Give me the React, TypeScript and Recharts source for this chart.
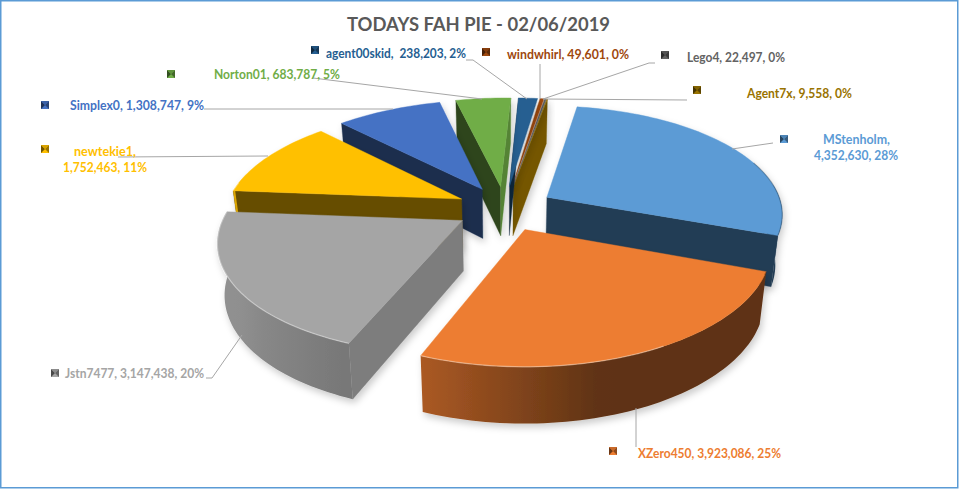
import React from "react";
import { PieChart, Pie } from "recharts";

const names = ["MStenholm", "XZero450", "Jstn7477", "newtekie1", "Simplex0", "Norton01", "agent00skid", "windwhirl", "Lego4", "Agent7x"];
const values = [4352630, 3923086, 3147438, 1752463, 1308747, 683787, 238203, 49601, 22497, 9558];
const colors = ["#5B9BD5", "#ED7D31", "#A5A5A5", "#FFC000", "#4472C4", "#70AD47", "#255E91", "#9E480E", "#636363", "#997300"];
const textLines = [
  ["MStenholm,", "4,352,630, 28%"],
  ["XZero450, 3,923,086, 25%"],
  ["Jstn7477, 3,147,438, 20%"],
  ["newtekie1,", "1,752,463, 11%"],
  ["Simplex0, 1,308,747, 9%"],
  ["Norton01, 683,787, 5%"],
  ["agent00skid,  238,203, 2%"],
  ["windwhirl, 49,601, 0%"],
  ["Lego4, 22,497, 0%"],
  ["Agent7x, 9,558, 0%"],
];
const titleText = "TODAYS FAH PIE - 02/06/2019";

// Painter's order: walking the pie counter-clockwise from the big slice lets nearer slices overlap farther ones.
const paintOrder = [0, 9, 8, 7, 6, 5, 4, 3, 2, 1];
const table = paintOrder.map((i) => ({ name: names[i], value: values[i], fill: colors[i], lines: textLines[i] }));

// Presentation only: label layout per category.
const layout: Record<string, { marker: number[]; text: number[][]; leader: number[][] }> = {
  MStenholm: { marker: [780, 135], text: [[823, 144, 67], [814, 160, 84]], leader: [[773, 143], [732, 149]] },
  XZero450: { marker: [609, 447], text: [[638, 458, 143]], leader: [[636, 447], [636, 408]] },
  Jstn7477: { marker: [51, 369], text: [[65, 378, 139]], leader: [[206, 378], [212, 378], [242, 335]] },
  newtekie1: { marker: [41, 145], text: [[74, 156, 62], [63, 172, 84]], leader: [[118, 157], [268, 156]] },
  Simplex0: { marker: [41, 101], text: [[70, 110, 134]], leader: [[204, 109], [393, 109]] },
  Norton01: { marker: [167, 70], text: [[214, 79, 126]], leader: [[313, 78], [482, 99]] },
  agent00skid: { marker: [311, 46], text: [[326, 58, 140]], leader: [[466, 60], [473, 60], [527, 99]] },
  windwhirl: { marker: [482, 48], text: [[507, 59, 122]], leader: [[540, 64], [540, 99]] },
  Lego4: { marker: [661, 51], text: [[687, 62, 98]], leader: [[655, 63], [649, 63], [543, 99]] },
  Agent7x: { marker: [693, 86], text: [[747, 98, 105]], leader: [[687, 100], [543, 99]] },
};

const FONT = "Lato, 'Open Sans', sans-serif";
const SQUASH = 108.7 / 236;
const PERSP = 0.155;
const EXPLODE = 0.207;
const SKEW = 4;
const DEPTH = 50;
const DEPTH_PERSP = 0.1;
const BOTTOM_SHRINK = 0.975;
const NO_END_WALL = new Set(["agent00skid", "windwhirl", "Lego4"]);

const rad = (d: number) => (d * Math.PI) / 180;
const norm = (t: number) => ((t % 360) + 360) % 360;
const shadeColor = (hex: string, f: number) => {
  const n = parseInt(hex.slice(1), 16);
  const c = [(n >> 16) & 255, (n >> 8) & 255, n & 255].map((v) => Math.round(v * f));
  return `rgb(${c[0]},${c[1]},${c[2]})`;
};
const arcShade = (raw: number) => {
  const t = norm(raw);
  if (t < 165) return 0.4;
  if (t < 201) return 0.4 + ((t - 165) / 36) * 0.32;
  if (t < 235) return 0.72 + ((t - 201) / 34) * 0.15;
  return 0.87;
};
const poly = (pts: number[][]) => "M" + pts.map((p) => `${p[0].toFixed(2)},${p[1].toFixed(2)}`).join("L") + "Z";

function Slice3D(props: any) {
  const { cx, cy, outerRadius: R, startAngle, endAngle, fill, name, index } = props;
  const t1 = 90 - endAngle;
  const t2 = 90 - startAngle;
  const tm = (t1 + t2) / 2;
  const ex = EXPLODE * Math.sin(rad(tm));
  const ey = -EXPLODE * Math.cos(rad(tm));

  const project = (lx: number, ly: number) => {
    const X = ex + lx;
    const Y = ey + ly;
    const w = 1 - PERSP * Y;
    return { p: [cx + (R * X) / w - SKEW * Y, cy + (R * SQUASH * Y) / w], y: ly, Y };
  };
  const top = (t: number) => project(Math.sin(rad(t)), -Math.cos(rad(t)));
  const bottom = (q: { p: number[]; Y: number }) => [
    cx + (q.p[0] - cx) * BOTTOM_SHRINK,
    q.p[1] + DEPTH / (1 - DEPTH_PERSP * q.Y),
  ];

  const steps = Math.max(1, Math.ceil((t2 - t1) / 1.5));
  const arc: { p: number[]; y: number; Y: number; t: number }[] = [];
  for (let i = 0; i <= steps; i++) {
    const t = t1 + ((t2 - t1) * i) / steps;
    arc.push({ ...top(t), t });
  }
  const apex = project(0, 0);
  const nodes: React.ReactNode[] = [];

  const cutWall = (t: number, normalAngle: number, key: string) => {
    const nx = Math.sin(rad(normalAngle));
    const ny = -Math.cos(rad(normalAngle));
    if (ny < -0.05) return;
    const o = top(t);
    const col = shadeColor(fill, nx > 0 ? 0.76 : 0.4);
    nodes.push(<path key={key} d={poly([apex.p, o.p, bottom(o), bottom(apex)])} fill={col} stroke={col} strokeWidth={0.3} />);
  };
  cutWall(t1, t1 - 90, "start");
  if (!NO_END_WALL.has(name)) cutWall(t2, t2 + 90, "end");

  const front = arc.filter((q) => q.y > -0.12);
  if (front.length > 1) {
    const xs = front.map((q) => q.p[0]);
    const x0 = Math.min(...xs);
    const x1 = Math.max(...xs);
    const gid = `wallGrad${index}`;
    const ordered = [...front].sort((a, b) => a.p[0] - b.p[0]);
    nodes.push(
      <defs key="grad">
        <linearGradient id={gid} gradientUnits="userSpaceOnUse" x1={x0} y1={0} x2={Math.max(x1, x0 + 1)} y2={0}>
          {ordered.filter((_, i) => i % 3 === 0).map((q, i) => (
            <stop key={i} offset={(q.p[0] - x0) / Math.max(x1 - x0, 1)} stopColor={shadeColor(fill, arcShade(q.t))} />
          ))}
        </linearGradient>
      </defs>
    );
    const wallPts = [...front.map((q) => q.p), ...[...front].reverse().map((q) => bottom(q))];
    nodes.push(<path key="wall" d={poly(wallPts)} fill={`url(#${gid})`} />);
  }

  const topD = "M" + apex.p.map((v) => v.toFixed(2)).join(",") + arc.map((q) => `L${q.p[0].toFixed(2)},${q.p[1].toFixed(2)}`).join("") + "Z";
  nodes.push(<path key="top" d={topD} fill={fill} stroke={fill} strokeWidth={0.4} />);

  const bright = arc.filter((q) => norm(q.t) > 150 && norm(q.t) < 280);
  if (bright.length > 1) {
    nodes.push(<polyline key="hi" points={bright.map((q) => q.p.join(",")).join(" ")} fill="none" stroke="#fff" strokeOpacity={0.35} strokeWidth={1.3} />);
  }
  const dark = arc.filter((q) => norm(q.t) > 70 && norm(q.t) < 112);
  if (dark.length > 1) {
    nodes.push(<polyline key="lo" points={dark.map((q) => q.p.join(",")).join(" ")} fill="none" stroke="#000" strokeOpacity={0.22} strokeWidth={1.3} />);
  }
  return <g filter="url(#softShadow)">{nodes}</g>;
}

function Marker({ x, y, color }: { x: number; y: number; color: string }) {
  const s = 8;
  const mid = [x + s / 2, y + s / 2];
  return (
    <g>
      <rect x={x} y={y} width={s} height={s} fill={color} />
      <path d={poly([[x, y], mid, [x, y + s]])} fill={shadeColor(color, 0.45)} />
      <path d={poly([[x + s, y], mid, [x + s, y + s]])} fill={shadeColor(color, 0.6)} />
      <path d={poly([[x, y], [x + s, y], mid])} fill={shadeColor(color, 0.85)} />
    </g>
  );
}

function SliceLabel(props: any) {
  const row = table[props.index];
  const l = layout[row.name];
  return (
    <g>
      <polyline points={l.leader.map((p) => p.join(",")).join(" ")} fill="none" stroke="#A6A6A6" strokeWidth={1} />
      <Marker x={l.marker[0]} y={l.marker[1]} color={row.fill} />
      {row.lines.map((line, i) => (
        <text key={i} x={l.text[i][0]} y={l.text[i][1]} textLength={l.text[i][2]} lengthAdjust="spacingAndGlyphs" fill={row.fill} fontFamily={FONT} fontSize={13} fontWeight={700} style={{ whiteSpace: "pre" }}>
          {line}
        </text>
      ))}
    </g>
  );
}

export default function App() {
  return (
    <div style={{ position: "absolute", left: 0, top: 0, width: 959, height: 489, background: "#fff" }}>
      <PieChart width={959} height={489} margin={{ top: 0, right: 0, bottom: 0, left: 0 }}>
        <defs>
          <filter id="softShadow" x="-20%" y="-20%" width="140%" height="140%">
            <feDropShadow dx={2} dy={4} stdDeviation={3.5} floodColor="#000" floodOpacity={0.2} />
          </filter>
        </defs>
        <rect x={0.75} y={0.75} width={957} height={487} fill="none" stroke="#5B9BD5" strokeWidth={1.5} />
        <text x={347} y={31} textLength={263} lengthAdjust="spacingAndGlyphs" fill="#595959" fontFamily={FONT} fontSize={19} fontWeight={700}>
          {titleText}
        </text>
        <Pie
          data={table}
          dataKey="value"
          nameKey="name"
          cx={505}
          cy={208.4}
          innerRadius={0}
          outerRadius={236}
          startAngle={-20.2}
          endAngle={339.8}
          paddingAngle={0}
          stroke="none"
          isAnimationActive={false}
          shape={Slice3D}
          label={SliceLabel}
          labelLine={false}
        />
      </PieChart>
    </div>
  );
}
